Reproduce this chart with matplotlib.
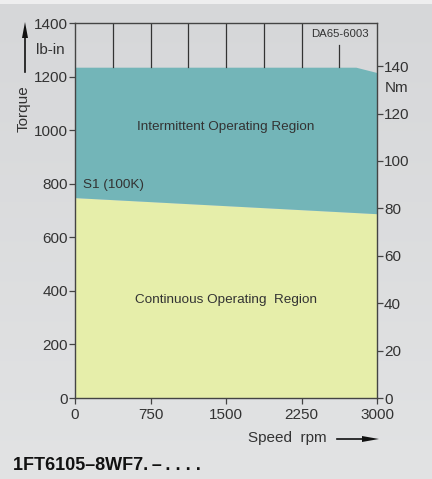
import numpy as np
import matplotlib.pyplot as plt

plt.rcParams['font.family'] = ['Liberation Sans', 'DejaVu Sans']

# data (speed in rpm, torque in lb-in)
speed_s1 = [0, 1500, 3000]
torque_s1 = [748, 718, 688]
speed_max = [0, 2790, 3000]
torque_max = [1235, 1235, 1215]
grid_speeds = [375, 750, 1125, 1500, 1875, 2250, 2625]
x_ticks = [0, 750, 1500, 2250, 3000]
y_ticks_lbin = [0, 200, 400, 600, 800, 1000, 1200, 1400]
y_ticks_nm = [0, 20, 40, 60, 80, 100, 120, 140]
NM_TO_LBIN = 8.8507

W, H = 432, 479
fig = plt.figure(figsize=(W / 100, H / 100), dpi=100)

# gray gradient background with a thin white strip on top
bg = fig.add_axes([0, 0, 1, 1], zorder=-10)
grad = np.linspace(0, 1, 256).reshape(-1, 1)
top = np.array([0.839, 0.843, 0.851])
bot = np.array([0.886, 0.890, 0.894])
img = top + (bot - top) * grad[:, :, None]
bg.imshow(img, aspect='auto', extent=[0, 1, 0, 1], origin='upper')
bg.axhspan(1 - 4 / H, 1, color='#eeeeef', lw=0)
bg.set_xlim(0, 1)
bg.set_ylim(0, 1)
bg.axis('off')

ax = fig.add_axes([75 / W, (H - 398) / H, 302 / W, 375 / H])
ax.set_xlim(0, 3000)
ax.set_ylim(0, 1400)
ax.set_facecolor('none')

xs = np.linspace(0, 3000, 301)
s1 = np.interp(xs, speed_s1, torque_s1)
mx = np.interp(xs, speed_max, torque_max)
ax.fill_between(xs, 0, s1, color='#e6eeaa', lw=0)
ax.fill_between(xs, s1, mx, color='#73b5b8', lw=0)

for s in grid_speeds:
    top_y = 1318 if s == 2625 else 1400
    ax.plot([s, s], [np.interp(s, speed_max, torque_max), top_y],
            color='#333333', lw=0.9)

ax.text(2632, 1360, 'DA65-6003', fontsize=8.2, color='#333333',
        ha='center', va='center')
ax.text(1500, 1010, 'Intermittent Operating Region', fontsize=9.7,
        color='#333333', ha='center', va='center')
ax.text(1500, 365, 'Continuous Operating  Region', fontsize=9.7,
        color='#333333', ha='center', va='center')
ax.text(80, 797, 'S1 (100K)', fontsize=9.7, color='#333333',
        ha='left', va='center')

for sp in ax.spines.values():
    sp.set_color('#444444')
    sp.set_linewidth(1.0)

ax.set_xticks(x_ticks)
ax.set_yticks(y_ticks_lbin)
ax.tick_params(direction='out', length=4, width=0.9, color='#444444',
               labelsize=11, labelcolor='#333333', pad=1)
ax.tick_params(axis='x', pad=3)

ax2 = ax.twinx()
ax2.set_ylim(0, 1400 / NM_TO_LBIN)
ax2.set_yticks(y_ticks_nm)
ax2.tick_params(direction='out', length=4, width=0.9, color='#444444',
                labelsize=11, labelcolor='#333333', pad=1)
for sp in ax2.spines.values():
    sp.set_visible(False)

# unit and axis labels
fig.text(50 / W, 1 - 50 / H, 'lb-in', fontsize=11, color='#333333',
         ha='center', va='center')
fig.text(397 / W, 1 - 88 / H, 'Nm', fontsize=11, color='#333333',
         ha='center', va='center')
fig.text(24 / W, 1 - 109 / H, 'Torque', fontsize=11, color='#333333',
         rotation=90, ha='center', va='center')
fig.add_artist(plt.Line2D([25 / W, 25 / W], [1 - 72 / H, 1 - 30 / H],
                          color='#111111', lw=1.2))
fig.add_artist(plt.Polygon([[22 / W, 1 - 38 / H], [28 / W, 1 - 38 / H],
                            [25 / W, 1 - 22 / H]], closed=True,
                           color='#111111', lw=0))
fig.text(287 / W, 1 - 438 / H, 'Speed  rpm', fontsize=11, color='#333333',
         ha='center', va='center')
fig.add_artist(plt.Line2D([337 / W, 366 / W], [1 - 439 / H, 1 - 439 / H],
                          color='#111111', lw=1.2))
fig.add_artist(plt.Polygon([[362 / W, 1 - 436 / H], [362 / W, 1 - 442 / H],
                            [379 / W, 1 - 439 / H]], closed=True,
                           color='#111111', lw=0))
fig.text(13 / W, 1 - 466 / H, '1FT6105\u20138WF7.\u2009\u2013\u2009. . . .',
         fontsize=13, fontweight='bold', color='#111111',
         ha='left', va='center')

fig.savefig('out.png', dpi=100)
